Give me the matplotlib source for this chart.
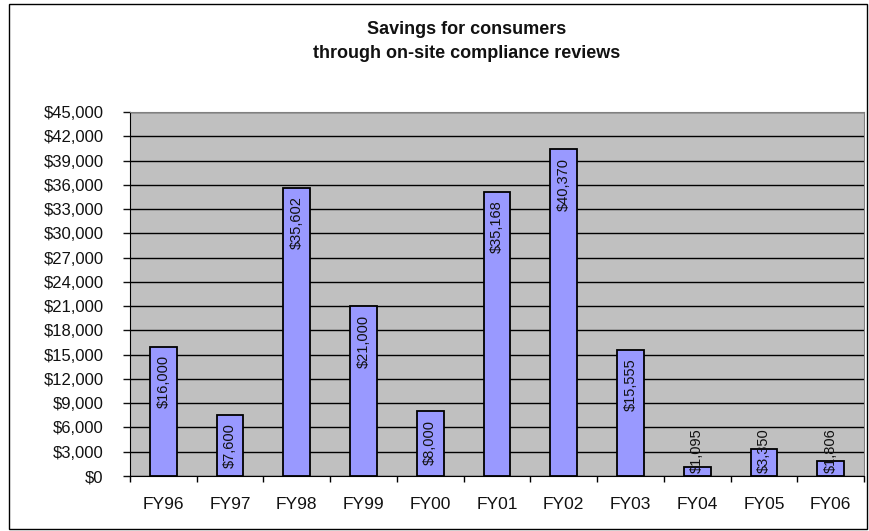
import matplotlib.pyplot as plt
import matplotlib.patches as patches
import numpy as np
from matplotlib.ticker import FuncFormatter, MultipleLocator

# data
years = ["FY96", "FY97", "FY98", "FY99", "FY00", "FY01", "FY02", "FY03", "FY04", "FY05", "FY06"]
savings = [16000, 7600, 35602, 21000, 8000, 35168, 40370, 15555, 1095, 3350, 1806]
title_lines = ["Savings for consumers", "through on-site compliance reviews"]

plt.rcParams['font.family'] = ['Liberation Sans', 'DejaVu Sans']

fig = plt.figure(figsize=(8.69, 5.31), dpi=100)
ax = fig.add_axes([130 / 869, 55 / 531, 734 / 869, 364 / 531])

x_indexes = np.arange(len(years))
bars = ax.bar(x_indexes, savings, width=0.4, color="#9999FF", edgecolor="black",
              linewidth=1.3, zorder=3)

# axes look like an old excel chart
ax.set_facecolor("#C0C0C0")
ax.set_xlim(-0.5, len(years) - 0.5)
ax.set_ylim(0, 45000)
ax.yaxis.set_major_locator(MultipleLocator(3000))
ax.yaxis.set_major_formatter(FuncFormatter(lambda v, p: "${:,.0f}".format(v)))
ax.grid(axis="y", color="black", linewidth=1, zorder=1)
ax.set_axisbelow(True)

ax.set_xticks(x_indexes)
ax.set_xticklabels(years)
ax.set_xticks(np.arange(len(years) + 1) - 0.5, minor=True)
ax.tick_params(axis="x", which="major", length=0, pad=15, labelsize=12.5, colors="#111111")
ax.tick_params(axis="x", which="minor", length=4, width=1, direction="out", color="black")
ax.tick_params(axis="y", length=5, width=1, direction="out", pad=14, labelsize=12,
               colors="#111111")

for side in ["top", "right"]:
    ax.spines[side].set_color("#808080")
for side in ["left", "bottom"]:
    ax.spines[side].set_color("black")

# title as two centred lines
fig.text(467 / 869, 1 - 30 / 531, title_lines[0], ha="center", va="center",
         fontsize=13, fontweight="bold", color="#111111")
fig.text(467 / 869, 1 - 54 / 531, title_lines[1], ha="center", va="center",
         fontsize=13, fontweight="bold", color="#111111")

# value labels, rotated, inside the bar top unless the bar is too short
fig.canvas.draw()
renderer = fig.canvas.get_renderer()
px_per_unit = ax.transData.transform((0, 1000))[1] - ax.transData.transform((0, 0))[1]
px_per_unit = px_per_unit / 1000
for xi, val in zip(x_indexes, savings):
    label = "${:,}".format(val)
    t = ax.annotate(label, xy=(xi, val), xytext=(0, -6), textcoords="offset points",
                    rotation=90, ha="center", va="top", fontsize=10.5, color="#111111",
                    zorder=4)
    ext = t.get_window_extent(renderer)
    if ext.height + 9 > val * px_per_unit:
        t.remove()
        ax.annotate(label, xy=(xi, 0), xytext=(0, 2), textcoords="offset points",
                    rotation=90, ha="center", va="bottom", fontsize=10.5, color="#111111",
                    zorder=4)

# outer border of the chart area
border = patches.Rectangle((9 / 869, 2 / 531), 858 / 869, 525 / 531, transform=fig.transFigure,
                           fill=False, edgecolor="black", linewidth=1)
fig.patches.append(border)

fig.savefig("out.png", dpi=100)
